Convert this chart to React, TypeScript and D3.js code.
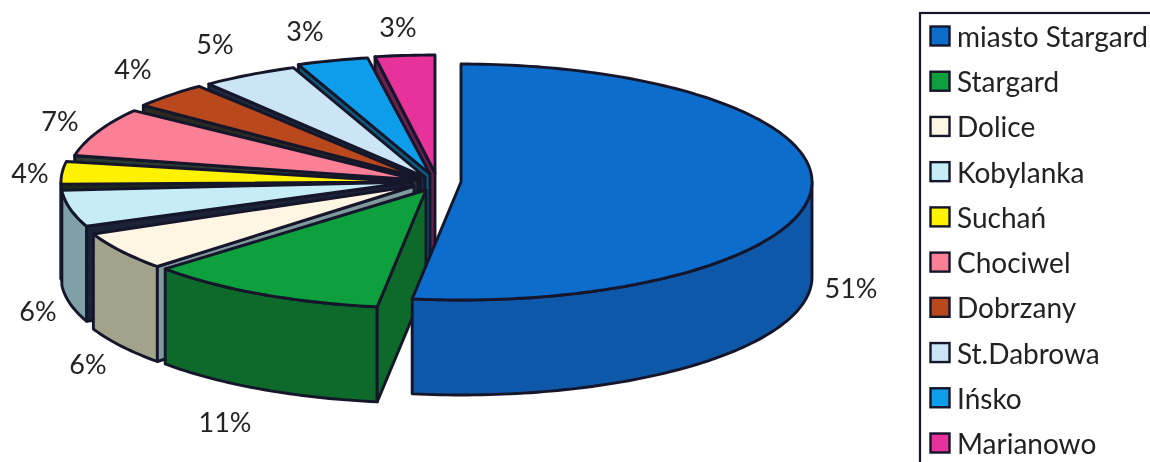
import React from "react";
import * as d3 from "d3";

// ---- data ----
const categories = ["miasto Stargard", "Stargard", "Dolice", "Kobylanka", "Suchań", "Chociwel", "Dobrzany", "St.Dabrowa", "Ińsko", "Marianowo"];
const percentLabels = ["51%", "11%", "6%", "6%", "4%", "7%", "4%", "5%", "3%", "3%"];
// slice shares (the printed labels are rounded)
const shares = [52.22, 11.11, 5.28, 5.69, 3.75, 7.22, 4.03, 4.58, 3.33, 2.79];
const topColors = ["#0b6dcc", "#07a03d", "#fff5e3", "#c6ecf8", "#fff200", "#fb8096", "#b9481b", "#cbe4f6", "#0b9dea", "#e6309a"];
const wallColors = ["#0f58a8", "#0a6b2c", "#a3a38c", "#7fa0a6", "#1c2a1c", "#2a3a30", "#2c2c20", "#1a2a3a", "#0a5a7a", "#6a2050"];
const cutColors = ["#0f58a8", "#0a6b2c", "#7f9a9c", "#1a2438", "#1c2a1c", "#2a3a30", "#2c2c20", "#1a2a3a", "#0a5a7a", "#6a2050"];

// ---- layout ----
const W = 1150, H = 462;
const RX = 351, RY = 118, DEPTH = 95;
const sliceCx = [461, 426, 414, 412, 412, 418, 420, 425, 430, 435];
const sliceCy = [182, 190, 186, 182, 182, 180, 178, 177, 174, 173];
// how far (degrees) each slice's drawn edges stand back from its share boundaries
const startInset = [0, 0, -1, 1, 1.5, 1, 1, 0.5, 0, 0.2];
const endInset = [0, 0, 1, 1.5, 1, 1, 0.5, 0, 0.2, 0];
const labelX = [851, 225, 88, 38, 30, 60, 133, 215, 305, 398];
const labelY = [287, 421, 363, 310, 172, 120, 68, 43, 30, 26];
const drawOrder = [9, 8, 7, 6, 5, 4, 3, 2, 1, 0];
const INK = "#15152c";
const FONT = "Lato, 'Open Sans', sans-serif";

const pieGen = d3.pie<number>().sort(null).value((d) => d);
const arcs = pieGen(shares);
const lineGen = d3.line();
const rad = (deg: number) => (deg * Math.PI) / 180;

const rim = (a: number, cx: number, cy: number): [number, number] => [cx + RX * Math.sin(a), cy - RY * Math.cos(a)];
const samples = (a0: number, a1: number) => {
  const n = Math.max(2, Math.ceil(Math.abs(a1 - a0) / 0.02));
  return d3.range(n + 1).map((i) => a0 + ((a1 - a0) * i) / n);
};

const rowY = d3.scalePoint<string>().domain(categories).range([36, 443]);

function Slice({ i }: { i: number }) {
  const a0 = arcs[i].startAngle + rad(startInset[i]);
  const a1 = arcs[i].endAngle - rad(endInset[i]);
  const cx = sliceCx[i], cy = sliceCy[i];
  const top = lineGen([[cx, cy], ...samples(a0, a1).map((a) => rim(a, cx, cy))]) + "Z";
  // outer wall: only the part turned to the viewer
  const w0 = Math.max(a0, Math.PI / 2), w1 = Math.min(a1, (3 * Math.PI) / 2);
  let wall: string | null = null;
  if (w1 > w0) {
    const edge = samples(w0, w1).map((a) => rim(a, cx, cy));
    const low = edge.slice().reverse().map(([x, y]) => [x, y + DEPTH] as [number, number]);
    wall = lineGen([...edge, ...low]) + "Z";
  }
  // cut face on the start side
  let cut: string | null = null;
  if (Math.sin(a0) < 0) {
    const p = rim(a0, cx, cy);
    cut = lineGen([[cx, cy], p, [p[0], p[1] + DEPTH], [cx, cy + DEPTH]]) + "Z";
  }
  return (
    <g stroke={INK} strokeWidth={2.9} strokeLinejoin="round">
      {wall && <path d={wall} fill={wallColors[i]} />}
      {cut && <path d={cut} fill={cutColors[i]} />}
      <path d={top} fill={topColors[i]} />
    </g>
  );
}

export default function App() {
  return (
    <svg width={W} height={H} viewBox={`0 0 ${W} ${H}`} style={{ position: "absolute", left: 0, top: 0, background: "#fff" }}>
      <defs>
        <filter id="soft" x="0" y="0" width="100%" height="100%">
          <feGaussianBlur stdDeviation="0.45" />
        </filter>
      </defs>
      <g filter="url(#soft)">
        {drawOrder.map((i) => (
          <Slice key={i} i={i} />
        ))}
        <g fontFamily={FONT} fontSize={27} fill="#222" textAnchor="middle" dominantBaseline="central">
          {percentLabels.map((t, i) => (
            <text key={i} x={labelX[i]} y={labelY[i]}>{t}</text>
          ))}
        </g>
        <rect x={920} y={13} width={260} height={480} fill="#fff" stroke={INK} strokeWidth={2.2} />
        {categories.map((c, i) => (
          <g key={c}>
            <rect x={930.5} y={rowY(c)! - 9.5} width={19} height={19} fill={topColors[i]} stroke={INK} strokeWidth={2.4} />
            <text x={957} y={rowY(c)!} fontFamily={FONT} fontSize={28} fill="#222" dominantBaseline="central">{c}</text>
          </g>
        ))}
      </g>
    </svg>
  );
}
